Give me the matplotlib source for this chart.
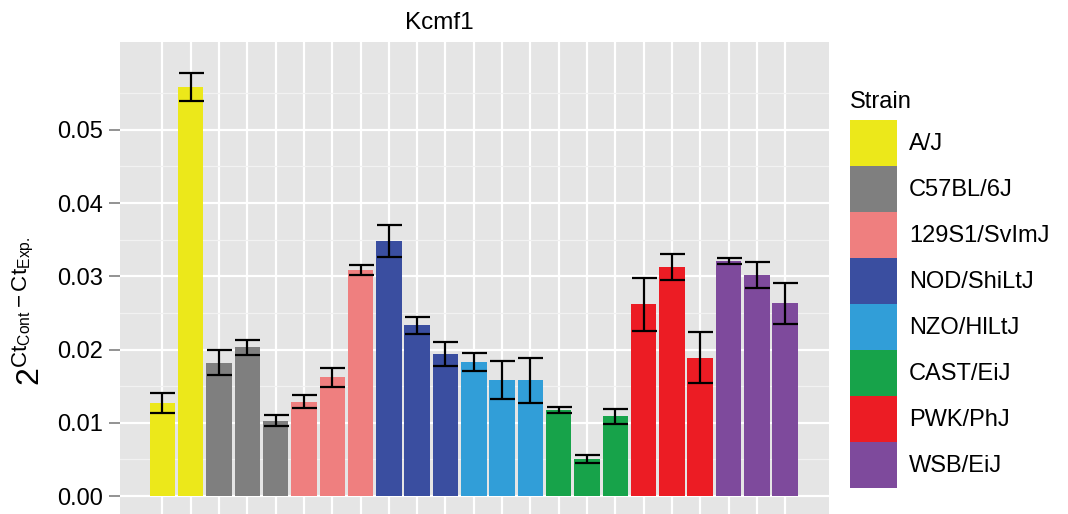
import numpy as np
import matplotlib
matplotlib.use('Agg')
import matplotlib.pyplot as plt
from matplotlib.patches import Patch

plt.rcParams['font.family'] = ['Liberation Sans', 'DejaVu Sans']
plt.rcParams['mathtext.fontset'] = 'custom'
plt.rcParams['mathtext.rm'] = 'Liberation Sans'
plt.rcParams['mathtext.it'] = 'Liberation Sans:italic'

# data (3 replicates per strain, A/J has 2)
strains = ['A/J', 'C57BL/6J', '129S1/SvImJ', 'NOD/ShiLtJ',
           'NZO/HlLtJ', 'CAST/EiJ', 'PWK/PhJ', 'WSB/EiJ']
colors = ['#ECE81A', '#7F7F7F', '#EF7F7F', '#3A4EA0',
          '#319ED8', '#17A34A', '#EC1C24', '#7E4A9C']

aj = [0.0127, 0.0559]
aj_err = [0.00135, 0.0019]
c57 = [0.0182, 0.0203, 0.0103]
c57_err = [0.0017, 0.0010, 0.0007]
s129 = [0.0129, 0.0162, 0.0309]
s129_err = [0.0009, 0.00135, 0.0007]
nod = [0.0348, 0.0233, 0.0194]
nod_err = [0.0022, 0.00115, 0.0016]
nzo = [0.0183, 0.0158, 0.0158]
nzo_err = [0.00125, 0.0026, 0.0031]
cast = [0.01175, 0.0051, 0.0109]
cast_err = [0.00045, 0.00055, 0.0010]
pwk = [0.0262, 0.0313, 0.0189]
pwk_err = [0.0036, 0.0018, 0.0035]
wsb = [0.0321, 0.0302, 0.0263]
wsb_err = [0.00045, 0.0018, 0.0028]

groups = [aj, c57, s129, nod, nzo, cast, pwk, wsb]
group_errs = [aj_err, c57_err, s129_err, nod_err, nzo_err, cast_err, pwk_err, wsb_err]

vals = np.concatenate(groups)
errs = np.concatenate(group_errs)
bar_cols = [c for g, c in zip(groups, colors) for _ in g]
x = np.arange(len(vals))

fig = plt.figure(figsize=(10.68, 5.14), dpi=100)
ax = fig.add_axes([120/1068, 1 - 518/514, 709/1068, 476/514])
ax.set_facecolor('#E5E5E5')

ax.bar(x, vals, width=0.9, color=bar_cols, zorder=3)
ax.errorbar(x, vals, yerr=errs, fmt='none', ecolor='black',
            elinewidth=1.6, capsize=9, capthick=1.6, zorder=4)

ax.set_xlim(-1.5, 23.55)
ax.set_ylim(-0.003, 0.062)
ax.set_yticks([0, 0.01, 0.02, 0.03, 0.04, 0.05])
ax.set_yticklabels(['0.00', '0.01', '0.02', '0.03', '0.04', '0.05'])
ax.set_yticks(np.arange(0.005, 0.06, 0.01), minor=True)
ax.set_xticks(x)
ax.set_xticklabels([])
ax.grid(True, which='major', color='white', lw=1.6, zorder=0)
ax.grid(True, which='minor', axis='y', color='#F2F2F2', lw=0.9, zorder=0)
ax.set_axisbelow(True)
for s in ax.spines.values():
    s.set_visible(False)
ax.tick_params(axis='y', which='major', length=8, width=1.2, color='#808080',
               labelsize=17, pad=4, labelcolor='black')
ax.tick_params(axis='y', which='minor', length=0)
ax.tick_params(axis='x', length=0)

fig.text(439/1068, 1 - 23/514, 'Kcmf1', ha='center', va='center', fontsize=17.5)
fig.text(31/1068, 1 - 311/514,
         r'$2^{\mathrm{Ct}_{\mathrm{Cont}}-\mathrm{Ct}_{\mathrm{Exp.}}}$',
         rotation=90, ha='center', va='center', fontsize=23)

# legend: title as separate text so the gap above the keys matches
fig.text(850/1068, 1 - 108/514, 'Strain', ha='left', va='baseline', fontsize=17)
handles = [Patch(facecolor=c, edgecolor='none') for c in colors]
leg = fig.legend(handles, strains, loc='upper left',
                 bbox_to_anchor=(850/1068, 1 - 120/514), frameon=False,
                 fontsize=17,
                 handlelength=2.0, handleheight=2.62, labelspacing=0,
                 handletextpad=0.5, borderpad=0, borderaxespad=0)

fig.savefig('out.png', dpi=100)
